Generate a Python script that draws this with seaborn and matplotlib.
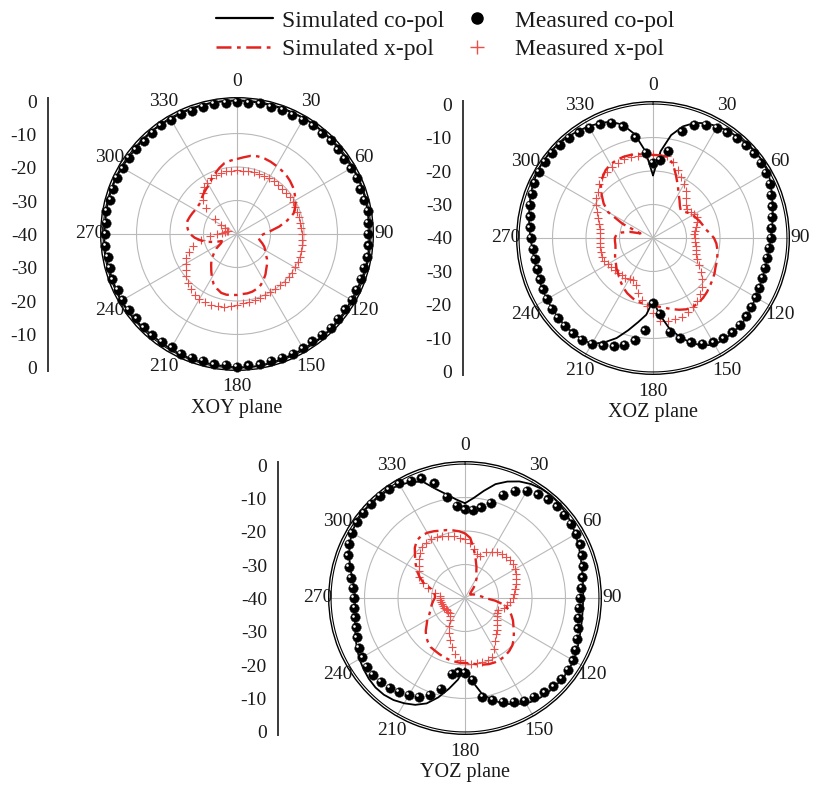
import numpy as np
import seaborn as sns
import matplotlib.pyplot as plt
from matplotlib.lines import Line2D
from matplotlib.transforms import offset_copy

# radiation patterns in dB, sampled every 5 degrees (0..355)
angles = np.arange(0, 360, 5)
angle_ticks = np.arange(0, 360, 30)
angle_labels = [str(a) for a in angle_ticks]
scale_ticks = [-40, -30, -20, -10, 0, 10, 20, 30, 40]
scale_labels = ['0', '-10', '-20', '-30', '-40', '-30', '-20', '-10', '0']

# XOY plane
xoy_sim_co = [-0.2, -0.2, -0.3, -0.3, -0.2, -0.2, -0.1, -0.1, -0.2, -0.3, -0.4, -0.4,
              -0.3, -0.2, -0.2, -0.3, -0.4, -0.5, -0.5, -0.4, -0.3, -0.3, -0.4, -0.5,
              -0.5, -0.4, -0.3, -0.2, -0.2, -0.3, -0.4, -0.4, -0.3, -0.2, -0.1, -0.1,
              -0.2, -0.3, -0.4, -0.4, -0.3, -0.3, -0.4, -0.5, -0.5, -0.4, -0.3, -0.2,
              -0.2, -0.3, -0.4, -0.4, -0.3, -0.3, -0.4, -0.5, -0.4, -0.3, -0.2, -0.2,
              -0.3, -0.4, -0.4, -0.3, -0.2, -0.2, -0.3, -0.3, -0.2, -0.2, -0.1, -0.2]
xoy_meas_co = [-0.5, -0.6, -0.4, -0.7, -0.5, -0.8, -0.6, -0.4, -0.7, -0.5, -0.6, -0.9,
               -0.7, -0.5, -0.8, -0.6, -0.4, -0.7, -0.9, -0.6, -0.5, -0.8, -0.6, -0.7,
               -0.5, -0.8, -0.6, -0.4, -0.7, -0.9, -0.6, -0.5, -0.7, -0.8, -0.5, -0.6,
               -0.4, -0.7, -0.5, -0.8, -0.6, -0.5, -0.9, -0.7, -0.5, -0.6, -0.8, -0.6,
               -0.5, -0.7, -0.4, -0.6, -0.8, -0.5, -0.7, -0.6, -0.4, -0.8, -0.6, -0.5,
               -0.7, -0.5, -0.6, -0.9, -0.6, -0.4, -0.7, -0.5, -0.8, -0.6, -0.5, -0.7]
xoy_sim_x = [-17.6, -17.0, -16.3, -16.0, -16.0, -16.2, -16.5, -16.8, -17.1, -17.6, -18.2, -19.0,
             -19.8, -20.8, -22.0, -24.5, -27.2, -30.0, -32.0, -33.0, -33.5, -33.0, -32.0, -31.0,
             -30.3, -29.5, -28.3, -27.3, -26.4, -25.2, -24.2, -23.2, -22.6, -22.2, -22.0, -22.0,
             -21.8, -21.7, -21.6, -21.8, -22.6, -23.5, -25.0, -26.6, -28.0, -29.2, -31.0, -32.5,
             -34.5, -35.0, -33.0, -31.0, -29.0, -27.3, -26.0, -25.3, -24.8, -24.7, -25.0, -25.3,
             -25.6, -25.7, -25.6, -25.0, -24.4, -23.8, -23.1, -22.0, -20.8, -19.6, -18.5, -18.0]
xoy_meas_x = [-21.0, -21.0, -20.9, -20.8, -20.8, -20.8, -20.8, -20.8, -20.8, -20.8, -20.8, -20.8,
              -20.8, -20.8, -20.8, -20.8, -20.8, -20.8, -20.7, -20.5, -20.3, -20.1, -20.1, -20.0,
              -20.0, -19.9, -19.9, -19.9, -20.0, -20.0, -20.0, -19.9, -19.8, -19.7, -19.5, -19.2,
              -18.8, -18.3, -17.9, -17.6, -17.5, -17.5, -17.6, -17.9, -18.5, -19.3, -20.3, -21.3,
              -22.3, -23.3, -24.7, -26.4, -29.0, -32.0, -34.0, -35.5, -36.5, -37.0, -37.0, -36.0,
              -34.5, -32.0, -28.0, -25.5, -24.0, -23.0, -22.3, -21.7, -21.3, -21.0, -21.0, -21.0]

# XOZ plane
xoz_sim_co = [-21.3, -14.0, -8.8, -5.5, -3.4, -2.2, -1.5, -1.0, -0.6, -0.3, -0.1, 0.0,
              -0.4, -1.2, -2.2, -3.0, -3.7, -4.3, -4.8, -5.1, -5.3, -5.3, -5.2, -5.0,
              -4.6, -4.0, -3.4, -3.1, -3.0, -3.1, -3.2, -4.6, -6.6, -9.5, -12.8, -17.0,
              -21.3, -17.0, -14.5, -11.5, -8.2, -5.6, -3.5, -3.0, -2.9, -2.9, -3.0, -3.2,
              -3.4, -3.6, -3.8, -4.0, -4.0, -3.8, -3.4, -2.9, -2.4, -1.8, -1.2, -0.6,
              -0.2, 0.0, 0.0, -0.2, -0.5, -1.0, -1.5, -2.2, -3.0, -5.0, -8.5, -14.0]
xoz_meas_co = [-17.5, -16.5, -13.5, -7.0, -4.0, -2.8, -2.0, -1.5, -1.1, -0.8, -0.6, -0.7,
               -1.0, -1.6, -2.5, -3.3, -4.0, -4.5, -4.9, -5.2, -5.4, -5.4, -5.3, -5.0,
               -4.6, -4.1, -3.6, -3.3, -3.2, -3.4, -4.0, -5.2, -6.8, -9.0, -11.5, -17.3,
               -20.5, -12.3, -9.0, -7.0, -5.6, -4.6, -3.6, -3.0, -2.8, -2.8, -3.0, -3.2,
               -3.5, -3.8, -4.0, -4.2, -4.2, -4.0, -3.6, -3.1, -2.6, -2.0, -1.4, -0.9,
               -0.6, -0.5, -0.5, -0.7, -1.0, -1.5, -2.0, -2.6, -3.5, -5.5, -9.5, -14.5]
xoz_sim_x = [-15.2, -15.2, -15.4, -17.0, -20.0, -22.5, -24.7, -26.2, -27.5, -28.3, -27.8, -27.0,
             -26.3, -25.8, -25.2, -24.7, -24.2, -23.0, -21.8, -21.0, -20.5, -20.1, -19.7, -19.4,
             -18.8, -18.3, -17.8, -17.2, -16.7, -16.4, -16.2, -16.5, -17.2, -18.0, -18.8, -19.4,
             -19.8, -20.0, -20.3, -20.5, -21.2, -21.8, -22.6, -23.5, -24.4, -25.2, -25.8, -26.5,
             -27.0, -27.5, -28.0, -28.4, -28.6, -28.6, -28.6, -29.0, -30.5, -33.0, -36.0, -30.0,
             -24.5, -22.0, -20.0, -18.0, -16.5, -15.3, -14.6, -14.3, -14.2, -14.3, -14.6, -15.0]
xoz_meas_x = [-15.0, -15.0, -15.2, -16.5, -18.5, -20.0, -21.5, -23.0, -24.5, -26.0, -26.6, -26.3,
              -25.8, -25.5, -26.0, -26.8, -27.3, -27.6, -27.6, -27.3, -27.0, -26.6, -26.3, -25.5,
              -24.0, -22.5, -21.0, -19.5, -18.0, -17.0, -16.2, -15.5, -15.0, -14.9, -14.9, -15.2,
              -17.5, -19.5, -21.2, -23.0, -25.0, -26.0, -26.0, -25.6, -25.5, -25.4, -25.2, -24.8,
              -24.4, -24.0, -23.8, -23.8, -24.0, -24.2, -24.3, -24.2, -24.0, -23.4, -22.5, -21.5,
              -20.4, -19.3, -18.4, -17.3, -16.4, -15.8, -15.4, -15.2, -15.0, -15.0, -15.0, -15.0]

# YOZ plane
yoz_sim_co = [-11.7, -10.0, -7.5, -4.8, -3.0, -1.6, -0.7, -0.2, 0.0, -0.2, -0.6, -1.2,
              -1.9, -2.6, -3.3, -3.9, -4.3, -4.6, -4.7, -4.7, -4.5, -4.2, -3.7, -3.1,
              -2.6, -2.3, -2.2, -2.3, -2.5, -2.8, -3.6, -5.0, -6.4, -8.5, -11.0, -15.0,
              -19.0, -15.5, -12.5, -9.3, -6.5, -4.8, -3.7, -2.8, -2.3, -2.2, -2.5, -3.0,
              -3.6, -4.4, -5.2, -6.0, -6.6, -7.0, -7.2, -6.8, -5.8, -4.5, -3.2, -2.0,
              -1.0, -0.4, -0.2, -0.2, -0.3, -0.5, -1.0, -1.8, -3.0, -6.3, -8.6, -10.5]
yoz_meas_co = [-13.5, -13.6, -12.5, -10.5, -7.2, -4.8, -3.0, -2.2, -1.6, -1.3, -1.3, -1.5,
               -1.6, -2.0, -2.8, -3.6, -4.4, -5.1, -5.7, -5.8, -5.6, -5.1, -4.5, -3.6,
               -2.8, -2.5, -2.4, -2.7, -3.2, -4.0, -4.6, -5.7, -7.1, -8.6, -10.0, -15.4,
               -17.6, -17.7, -17.0, -12.0, -9.2, -7.4, -6.5, -5.7, -5.0, -4.5, -4.2, -4.3,
               -4.6, -5.0, -5.6, -6.2, -6.6, -6.8, -6.8, -6.3, -5.3, -4.0, -2.8, -1.8,
               -1.0, -0.6, -0.4, -0.3, -0.3, -0.4, -0.5, -1.5, -2.0, -4.6, -9.3, -12.3]
yoz_sim_x = [-20.7, -22.0, -25.0, -27.8, -30.0, -32.0, -33.0, -34.5, -36.0, -37.5, -38.0, -38.0,
             -38.0, -37.5, -37.0, -36.5, -36.0, -35.0, -34.0, -31.0, -28.0, -26.5, -25.3, -24.2,
             -23.3, -22.2, -21.0, -20.0, -19.4, -19.0, -18.8, -18.8, -19.0, -19.4, -19.9, -20.4,
             -20.6, -20.6, -20.8, -21.0, -21.3, -21.6, -21.9, -22.1, -22.8, -23.6, -24.7, -26.0,
             -27.0, -28.2, -29.0, -29.5, -30.0, -30.5, -31.0, -31.0, -30.5, -29.5, -26.8, -25.0,
             -23.3, -22.0, -20.5, -18.8, -17.6, -17.3, -17.5, -18.0, -18.6, -19.0, -19.5, -20.0]
yoz_meas_x = [-22.5, -23.5, -25.0, -26.5, -26.5, -25.0, -24.0, -23.3, -22.8, -22.5, -22.4, -22.5,
              -22.8, -23.2, -23.7, -24.2, -24.8, -25.4, -25.8, -26.5, -27.2, -28.0, -29.5, -29.3,
              -29.0, -28.4, -27.6, -26.6, -25.8, -24.3, -22.5, -20.6, -20.2, -20.1, -20.2, -20.3,
              -20.5, -21.5, -23.0, -25.0, -26.7, -28.5, -30.5, -32.0, -33.0, -33.5, -33.5, -33.5,
              -33.3, -33.2, -33.0, -32.8, -32.6, -32.5, -32.5, -32.5, -31.0, -28.5, -26.5, -25.0,
              -24.0, -23.4, -22.0, -20.8, -20.0, -19.8, -19.8, -20.0, -20.3, -20.8, -21.3, -22.0]

RED = '#e3221f'
RED_LIGHT = '#ee4d4a'
DASHDOT = (0, (6, 2.2, 1.5, 2.2))
W, H = 817, 790

sns.set_theme(style='white')
plt.rcParams['font.family'] = ['Liberation Serif', 'DejaVu Serif']
plt.rcParams['text.color'] = '#1a1a1a'

fig = plt.figure(figsize=(W / 100, H / 100), dpi=100)


def closed(v):
    return np.append(v, v[0])


def draw_plane(cx, cy, sim_co, meas_co, sim_x, meas_x, title):
    R = 136.3  # pixel radius of the frame (0.7 dB above 0)
    ax = fig.add_axes([(cx - R) / W, (H - cy - R) / H, 2 * R / W, 2 * R / H],
                      projection='polar')
    th = np.deg2rad(angles)
    th_c = np.append(th, 2 * np.pi)

    sns.lineplot(x=th_c, y=closed(sim_co), ax=ax, color='black', lw=1.3,
                 sort=False, estimator=None, zorder=4)
    sns.lineplot(x=th_c, y=closed(sim_x), ax=ax, color=RED, lw=1.7,
                 linestyle=DASHDOT, sort=False, estimator=None, zorder=4)
    sns.scatterplot(x=th, y=meas_x, ax=ax, marker='+', color=RED_LIGHT, s=28,
                    linewidth=0.8, zorder=3, clip_on=False)
    sns.scatterplot(x=th, y=meas_co, ax=ax, marker='o', color='black', s=48,
                    edgecolor='#303030', linewidth=0.3, zorder=5, clip_on=False)
    glint = offset_copy(ax.transData, fig=fig, x=-1.2, y=1.2, units='points')
    sns.scatterplot(x=th, y=meas_co, ax=ax, marker='o', color='white', s=3.5,
                    linewidth=0, zorder=6, clip_on=False, transform=glint)

    # 0 dB ring inside the frame
    ring = np.linspace(0, 2 * np.pi, 361)
    ax.plot(ring, np.zeros_like(ring), color='black', lw=0.8, zorder=2)

    ax.set_theta_zero_location('N')
    ax.set_theta_direction(-1)
    ax.set_ylim(-40, 0.7)
    ax.set_yticks([-30, -20, -10])
    ax.set_yticklabels([])
    ax.set_xticks(np.deg2rad(angle_ticks))
    ax.set_xticklabels([])
    ax.grid(True, color='#b9b9b9', lw=0.8)
    ax.spines['polar'].set_color('black')
    ax.spines['polar'].set_linewidth(1.0)
    ax.set_xlabel('')
    ax.set_ylabel('')
    ax.set_facecolor('none')

    # angle labels on a slightly flattened ring outside the frame
    for a, lab in zip(angle_ticks, angle_labels):
        t = np.deg2rad(a)
        ax.text(0.5 + 147 * np.sin(t) / (2 * R), 0.5 + 153 * np.cos(t) / (2 * R), lab,
                transform=ax.transAxes, ha='center', va='center', fontsize=14,
                clip_on=False)

    fig.text(cx / W, 1 - (cy + 175) / H, title, ha='center', va='center', fontsize=14.5)


def draw_scale(x, cy):
    half = 133.5 * 41 / 40
    ax = fig.add_axes([x / W, (H - cy - half) / H, 0.02, 2 * half / H])
    ax.set_ylim(-41, 41)
    ax.set_yticks(scale_ticks)
    ax.set_yticklabels(scale_labels)
    ax.set_xticks([])
    for s in ['top', 'right', 'bottom']:
        ax.spines[s].set_visible(False)
    ax.spines['left'].set_color('#3a3a3a')
    ax.spines['left'].set_linewidth(1.4)
    ax.tick_params(axis='y', direction='in', length=7, width=1.2, pad=8,
                   labelsize=14, colors='#3a3a3a', labelcolor='#1a1a1a')
    ax.set_facecolor('none')


draw_plane(237, 234, xoy_sim_co, xoy_meas_co, xoy_sim_x, xoy_meas_x, 'XOY plane')
draw_plane(653, 238, xoz_sim_co, xoz_meas_co, xoz_sim_x, xoz_meas_x, 'XOZ plane')
draw_plane(465, 598, yoz_sim_co, yoz_meas_co, yoz_sim_x, yoz_meas_x, 'YOZ plane')
draw_scale(48, 234.5)
draw_scale(463, 238)
draw_scale(278, 598.5)

handles = [
    Line2D([], [], color='black', lw=1.6),
    Line2D([], [], color=RED, lw=1.8, linestyle=DASHDOT),
    Line2D([], [], ls='none', marker='o', color='black', ms=8),
    Line2D([], [], ls='none', marker='+', color=RED_LIGHT, ms=10, mew=1.0),
]
labels = ['Simulated co-pol', 'Simulated x-pol', 'Measured co-pol', 'Measured x-pol']
fig.legend(handles, labels, ncol=2, loc='upper center', bbox_to_anchor=(0.545, 1.005),
           frameon=False, fontsize=17, handlelength=2.4, handletextpad=0.4,
           columnspacing=0.2, labelspacing=0.3, borderpad=0.1)

fig.savefig('out.png', dpi=100)
